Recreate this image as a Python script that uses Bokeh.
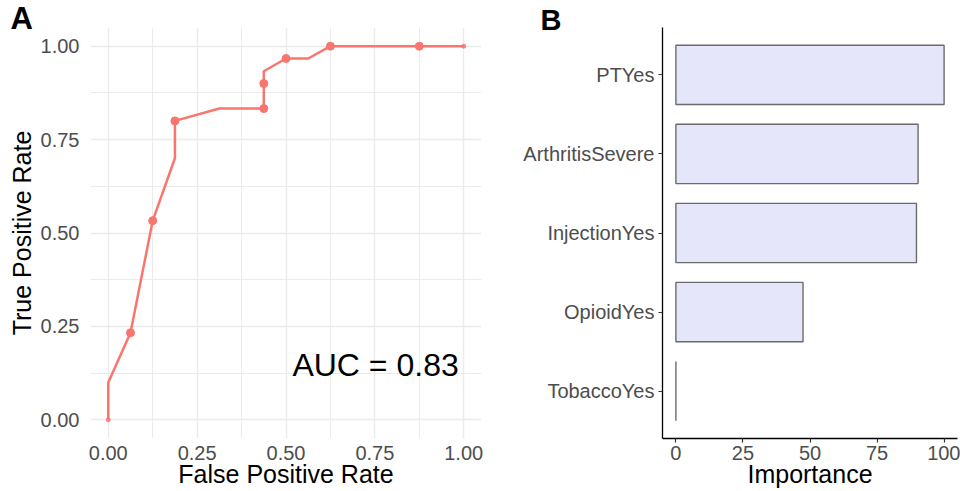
from bokeh.plotting import figure
from bokeh.layouts import row
from bokeh.models import Range1d, FixedTicker, Label, Title
from bokeh.embed import file_html
from bokeh.resources import INLINE

# ---- Panel A data (ROC curve) ----
fpr = [0.0, 0.0, 0.0625, 0.125, 0.1875, 0.1875, 0.3125, 0.4375, 0.4375, 0.4375, 0.5, 0.5625, 0.625, 0.875, 1.0]
tpr = [0.0, 0.10, 0.233, 0.533, 0.70, 0.80, 0.833, 0.833, 0.90, 0.933, 0.967, 0.967, 1.0, 1.0, 1.0]
pt_fpr = [0.0625, 0.125, 0.1875, 0.4375, 0.4375, 0.5, 0.625, 0.875]
pt_tpr = [0.233, 0.533, 0.80, 0.833, 0.90, 0.967, 1.0, 1.0]
end_fpr = [0.0, 1.0]
end_tpr = [0.0, 1.0]
roc_ticks = [0.0, 0.25, 0.5, 0.75, 1.0]
roc_minor = [0.125, 0.375, 0.625, 0.875]
auc_text = "AUC = 0.83"

# ---- Panel B data (variable importance) ----
features = ["TobaccoYes", "OpioidYes", "InjectionYes", "ArthritisSevere", "PTYes"]
importance = [0.0, 47.4, 89.7, 90.3, 100.0]
imp_ticks = [0, 25, 50, 75, 100]

FONT = "Liberation Sans"
RED = "#F8766D"

# ---------------- Panel A ----------------
pa = figure(width=495, height=491, output_backend="svg", toolbar_location=None,
            x_range=Range1d(-0.05, 1.05), y_range=Range1d(-0.05, 1.05),
            min_border_left=90, min_border_right=14, min_border_top=26, min_border_bottom=52)
pa.outline_line_color = None
pa.background_fill_color = "white"
pa.border_fill_color = "white"

for ax in (pa.xaxis[0], pa.yaxis[0]):
    ax.ticker = FixedTicker(ticks=roc_ticks, minor_ticks=roc_minor)
    ax.axis_line_color = None
    ax.major_tick_line_color = None
    ax.minor_tick_line_color = None
    ax.major_label_text_font = FONT
    ax.major_label_text_font_size = "20px"
    ax.major_label_text_color = "#4D4D4D"
    ax.axis_label_text_font = FONT
    ax.axis_label_text_font_size = "25px"
    ax.axis_label_text_font_style = "normal"
    ax.axis_label_text_color = "black"
    ax.major_label_standoff = 5
    ax.axis_label_standoff = 2
pa.xaxis[0].major_label_overrides = {t: f"{t:.2f}" for t in roc_ticks}
pa.yaxis[0].major_label_overrides = {t: f"{t:.2f}" for t in roc_ticks}
pa.xaxis.axis_label = "False Positive Rate"
pa.yaxis.axis_label = "True Positive Rate"
pa.xaxis[0].major_label_standoff = 1
pa.xaxis[0].axis_label_standoff = -3

for g in (pa.xgrid[0], pa.ygrid[0]):
    g.grid_line_color = "#EBEBEB"
    g.grid_line_width = 1.4
    g.minor_grid_line_color = "#EBEBEB"
    g.minor_grid_line_width = 1.0

pa.line(fpr, tpr, line_color=RED, line_width=2.5)
pa.scatter(pt_fpr, pt_tpr, size=8, color=RED)
pa.scatter(end_fpr, end_tpr, size=4, color=RED, alpha=0.8)

pa.add_layout(Label(x=0.752, y=0.147, text=auc_text, text_font=FONT, text_font_size="32px",
                    text_color="black", text_align="center", text_baseline="middle"))
pa.add_layout(Title(text="A", align="left", offset=-80, standoff=-19, vertical_align="middle",
                    text_font=FONT, text_font_size="31px", text_font_style="bold",
                    text_color="black"), "above")

# ---------------- Panel B ----------------
ypos = list(range(1, len(features) + 1))
pb = figure(width=465, height=491, output_backend="svg", toolbar_location=None,
            x_range=Range1d(-5, 105), y_range=Range1d(0.4, len(features) + 0.6),
            min_border_left=167, min_border_right=3, min_border_top=27, min_border_bottom=53)
pb.outline_line_color = None
pb.xgrid.visible = False
pb.ygrid.visible = False

pb.xaxis[0].ticker = FixedTicker(ticks=imp_ticks, minor_ticks=[])
pb.yaxis[0].ticker = FixedTicker(ticks=ypos, minor_ticks=[])
pb.yaxis[0].major_label_overrides = {y: f for y, f in zip(ypos, features)}
pb.xaxis.axis_label = "Importance"
for ax in (pb.xaxis[0], pb.yaxis[0]):
    ax.axis_line_color = "black"
    ax.axis_line_width = 1.3
    ax.major_tick_line_color = "#333333"
    ax.major_tick_line_width = 1.2
    ax.major_tick_out = 4
    ax.major_tick_in = 0
    ax.minor_tick_line_color = None
    ax.major_label_text_font = FONT
    ax.major_label_text_font_size = "20px"
    ax.major_label_text_color = "#4D4D4D"
    ax.axis_label_text_font = FONT
    ax.axis_label_text_font_size = "25px"
    ax.axis_label_text_font_style = "normal"
    ax.axis_label_text_color = "black"
    ax.major_label_standoff = 4
    ax.axis_label_standoff = 0
pb.xaxis[0].major_label_standoff = 3
pb.xaxis[0].axis_label_standoff = -3

pb.hbar(y=ypos, left=0, right=importance, height=0.75,
        fill_color="#E6E6FA", line_color="#6B6B6B", line_width=1.4)

pb.add_layout(Title(text="B", align="left", offset=-122, standoff=-19, vertical_align="middle",
                    text_font=FONT, text_font_size="29px", text_font_style="bold",
                    text_color="black"), "above")

layout = row(pa, pb)
open("out.html", "w").write(file_html(layout, INLINE))
